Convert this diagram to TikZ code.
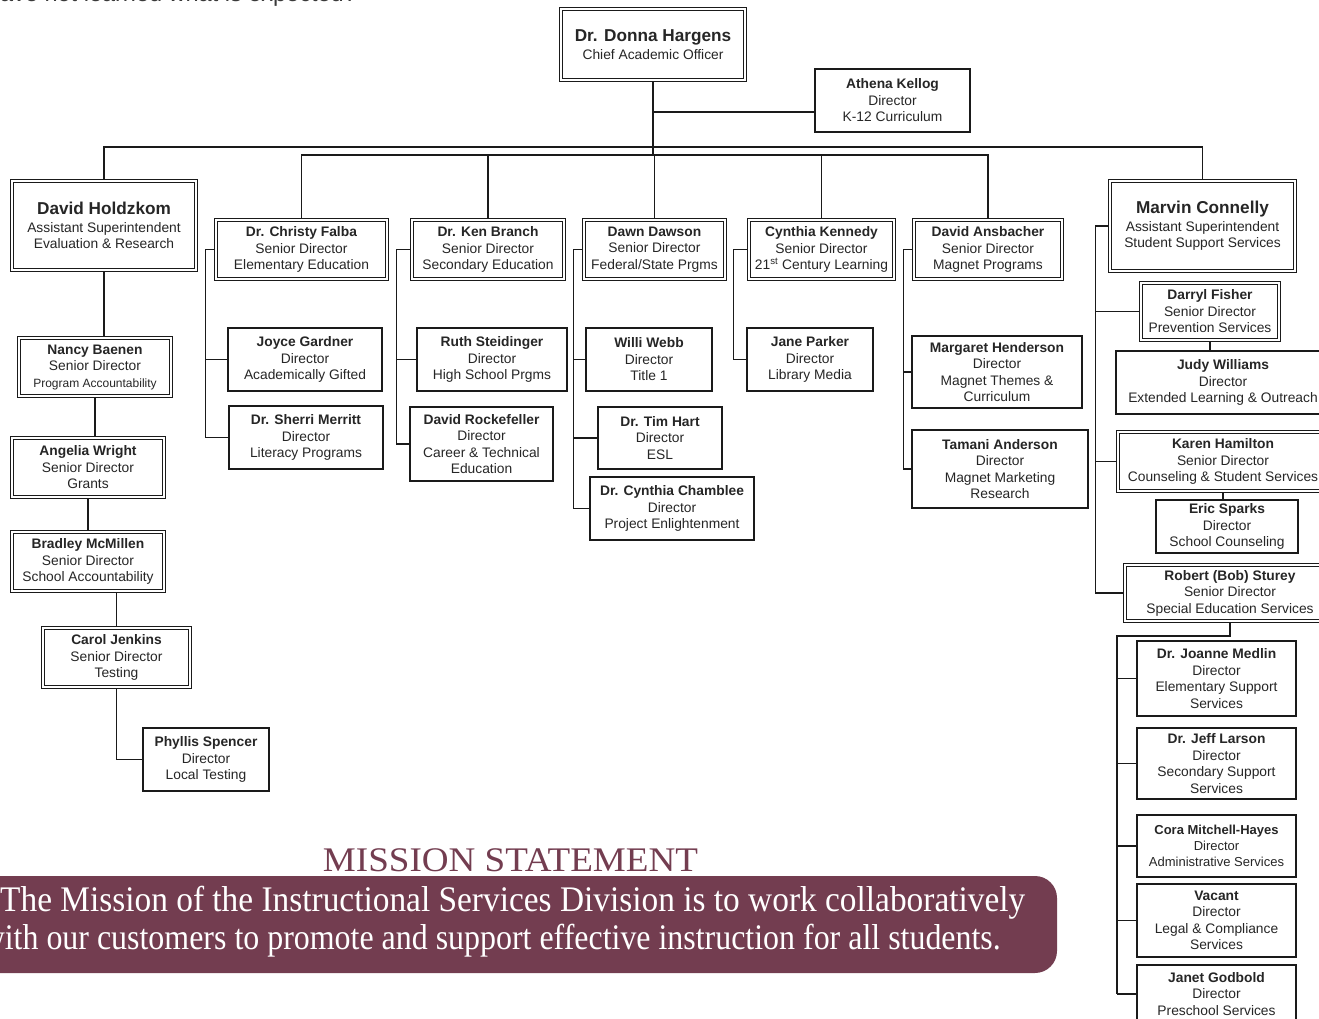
\documentclass[tikz,border=0pt]{standalone}
\usepackage{fontspec}
\usepackage{graphicx}
\setmainfont{Liberation Sans}
\newfontfamily\serifface{Liberation Serif}
\usetikzlibrary{backgrounds}

\definecolor{ink}{HTML}{262626}
\definecolor{linec}{HTML}{1A1A1A}
\definecolor{leadgray}{HTML}{3A3A3A}
\definecolor{maroon}{HTML}{733D50}

\newcommand{\pname}[1]{\textbf{#1}}
\newcommand{\bigname}[1]{{\fontsize{17.2}{20}\selectfont\bfseries #1}}

\tikzset{
  base/.style={align=center, inner sep=0pt, font=\fontsize{13.8}{16.5}\selectfont, text=ink, fill=white},
  single/.style={base, draw=linec, line width=1.1pt},
  dbl/.style={base, draw=linec, line width=1pt},
  innerframe/.style={draw=linec, line width=1pt},
  sz/.style 2 args={minimum width=#1, minimum height=#2},
  link/.style={draw=linec, line width=1.2pt},
  trunk/.style={draw=linec, line width=2pt},
}

\begin{document}
\begin{tikzpicture}[x=1pt, y=-1pt]
\useasboundingbox (0,0) rectangle (1319,1019);
\clip (0,0) rectangle (1319,1019);

% leftover line of running text at the top
\node[anchor=base west, inner sep=0pt, text=leadgray, font=\fontsize{23.5}{28}\selectfont] (lead) at (0,2) {ave not learned what is expected?};

% ---- top level
\node[dbl, sz={187pt}{74pt}] (donna) at (653,44.5) {\bigname{Dr. Donna Hargens}\\[1pt]Chief Academic Officer};
\node[single, sz={155pt}{63pt}] (athena) at (892.5,100.5) {\pname{Athena Kellog}\\Director\\K-12 Curriculum};

% ---- second level
\node[dbl, sz={187pt}{92pt}] (holdzkom) at (104,225.5) {\bigname{David Holdzkom}\\[1pt]Assistant Superintendent\\Evaluation \& Research};
\node[dbl, sz={174pt}{62pt}] (falba) at (301.5,249.5) {\pname{Dr. Christy Falba}\\Senior Director\\Elementary Education};
\node[dbl, sz={155pt}{62pt}] (branch) at (488,249.5) {\pname{Dr. Ken Branch}\\Senior Director\\Secondary Education};
\node[dbl, sz={144pt}{62pt}] (dawson) at (654.5,249.5) {\pname{Dawn Dawson}\\Senior Director\\Federal/State Prgms};
\node[dbl, sz={148pt}{62pt}] (kennedy) at (821.5,249.5) {\pname{Cynthia Kennedy}\\Senior Director\\21\textsuperscript{st} Century Learning};
\node[dbl, sz={151pt}{62pt}] (ansbacher) at (988,249.5) {\pname{David Ansbacher}\\Senior Director\\Magnet Programs};
\node[dbl, sz={188pt}{93pt}] (connelly) at (1202.5,226) {\bigname{Marvin Connelly}\\[1pt]Assistant Superintendent\\Student Support Services};

% ---- evaluation & research column
\node[dbl, sz={155pt}{61pt}] (nancy) at (95,367) {\pname{Nancy Baenen}\\Senior Director\\{\fontsize{12}{14}\selectfont Program Accountability}};
\node[dbl, sz={155pt}{62pt}] (angelia) at (88,467.5) {\pname{Angelia Wright}\\Senior Director\\Grants};
\node[dbl, sz={155pt}{62pt}] (bradley) at (88,561.5) {\pname{Bradley McMillen}\\Senior Director\\School Accountability};
\node[dbl, sz={150pt}{62pt}] (carol) at (116.5,657.5) {\pname{Carol Jenkins}\\Senior Director\\Testing};
\node[single, sz={126pt}{63pt}] (phyllis) at (206,759.5) {\pname{Phyllis Spencer}\\Director\\Local Testing};

% ---- directors under the senior directors
\node[single, sz={154pt}{63pt}] (joyce) at (305,359.5) {\pname{Joyce Gardner}\\Director\\Academically Gifted};
\node[single, sz={154pt}{63pt}] (merritt) at (306,437.5) {\pname{Dr. Sherri Merritt}\\Director\\Literacy Programs};
\node[single, sz={150pt}{63pt}] (ruth) at (492,359.5) {\pname{Ruth Steidinger}\\Director\\High School Prgms};
\node[single, sz={143pt}{74pt}] (rockefeller) at (481.5,444) {\pname{David Rockefeller}\\Director\\Career \& Technical\\Education};
\node[single, sz={126pt}{63pt}] (webb) at (649,359.5) {\pname{Willi Webb}\\Director\\Title 1};
\node[single, sz={124pt}{62pt}] (hart) at (660,438) {\pname{Dr. Tim Hart}\\Director\\ESL};
\node[single, sz={164pt}{63pt}] (chamblee) at (672,508.5) {\pname{Dr. Cynthia Chamblee}\\Director\\Project Enlightenment};
\node[single, sz={126pt}{63pt}] (parker) at (810,359.5) {\pname{Jane Parker}\\Director\\Library Media};
\node[single, sz={170pt}{72pt}] (henderson) at (997,372) {\pname{Margaret Henderson}\\Director\\Magnet Themes \&\\Curriculum};
\node[single, sz={176pt}{78pt}] (tamani) at (1000,469) {\pname{Tamani Anderson}\\Director\\Magnet Marketing\\Research};

% ---- student support services column
\node[dbl, sz={141pt}{60pt}] (darryl) at (1210,311.5) {\pname{Darryl Fisher}\\Senior Director\\Prevention Services};
\node[single, sz={214pt}{63pt}] (judy) at (1223,382.5) {\pname{Judy Williams}\\Director\\Extended Learning \& Outreach};
\node[dbl, sz={213pt}{62pt}] (karen) at (1223,461.5) {\pname{Karen Hamilton}\\Senior Director\\Counseling \& Student Services};
\node[single, sz={142pt}{53pt}] (eric) at (1227,526.5) {\pname{Eric Sparks}\\Director\\School Counseling};
\node[dbl, sz={213pt}{59pt}] (sturey) at (1230,593) {\pname{Robert (Bob) Sturey}\\Senior Director\\Special Education Services};
\node[single, sz={159pt}{75pt}] (medlin) at (1216.5,678.5) {\pname{Dr. Joanne Medlin}\\Director\\Elementary Support\\Services};
\node[single, sz={159pt}{71pt}] (larson) at (1216.5,763.5) {\pname{Dr. Jeff Larson}\\Director\\Secondary Support\\Services};
\node[single, sz={159pt}{62pt}, font=\fontsize{13}{16}\selectfont] (cora) at (1216.5,846) {\pname{Cora Mitchell-Hayes}\\Director\\Administrative Services};
\node[single, sz={159pt}{73pt}] (vacant) at (1216.5,920.5) {\pname{Vacant}\\Director\\Legal \& Compliance\\Services};
\node[single, sz={159pt}{58pt}] (godbold) at (1216.5,994) {\pname{Janet Godbold}\\Director\\Preschool Services};

% second, inner frame line of the senior staff boxes
\foreach \n in {donna,holdzkom,falba,branch,dawson,kennedy,ansbacher,connelly,
                nancy,angelia,bradley,carol,darryl,karen,sturey}
  \draw[innerframe] ([shift={(3.2,3.2)}]\n.north west) rectangle ([shift={(-3.2,-3.2)}]\n.south east);

% ---- connectors
\begin{pgfonlayer}{background}
  \coordinate (bar1) at (653,147);
  \coordinate (bar2) at (653,155);
  \coordinate (kellog) at (653,112);
  \draw[trunk] (donna.south) -- (bar2);
  \draw[link] (kellog) -- (kellog -| athena.west);
  \draw[link] (holdzkom.north) |- (bar1) -| (connelly.north);
  \draw[link] (falba.north) |- (bar2) -| (ansbacher.north);
  \draw[link] (branch.north) -- (branch.north |- bar2);
  \draw[link] (dawson.north) -- (dawson.north |- bar2);
  \draw[link] (kennedy.north) -- (kennedy.north |- bar2);

  % evaluation & research chain
  \draw[link] (holdzkom.south) -- (holdzkom.south |- nancy.north);
  \draw[link] (nancy.south) -- (nancy.south |- angelia.north);
  \draw[link] (angelia.south) -- (bradley.north);
  \draw[link] (carol.north |- bradley.south) -- (carol.north);
  \draw[link] (carol.south) |- (phyllis.west);

  % side spines of the senior directors
  \draw[link] (falba.west) -- ++(-8.6,0) coordinate (fx) |- (merritt.west);
  \draw[link] (fx) |- (joyce.west);
  \draw[link] (branch.west) -- ++(-13.6,0) coordinate (bx) |- (rockefeller.west);
  \draw[link] (bx) |- (ruth.west);
  \draw[link] (dawson.west) -- ++(-8.6,0) coordinate (dx) |- (chamblee.west);
  \draw[link] (dx) |- (webb.west);
  \draw[link] (dx) |- (hart.west);
  \draw[link] (kennedy.west) -- ++(-13.6,0) |- (parker.west);
  \draw[link] (ansbacher.west) -- ++(-8.6,0) coordinate (ax) |- (tamani.west);
  \draw[link] (ax) |- (henderson.west);

  % student support services
  \draw[link] (connelly.west) -- ++(-12.6,0) coordinate (cx) |- (sturey.west);
  \draw[link] (cx) |- (darryl.west);
  \draw[link] (cx) |- (karen.west);
  \draw[link] (darryl.south) -- (darryl.south |- judy.north);
  \draw[link] (karen.south) -- (karen.south |- eric.north);

  % special education spine
  \coordinate (sp) at (1117,636);
  \draw[trunk] (sturey.south) |- (sp) -- (sp |- godbold.west);
  \draw[link] (sp |- medlin.west) -- (medlin.west);
  \draw[link] (sp |- larson.west) -- (larson.west);
  \draw[link] (sp |- cora.west) -- (cora.west);
  \draw[link] (sp |- vacant.west) -- (vacant.west);
  \draw[link] (sp |- godbold.west) -- (godbold.west);
\end{pgfonlayer}

% ---- mission statement
\node[anchor=base, inner sep=0pt, text=maroon] (title) at (510.5,871)
  {\resizebox{375pt}{\height}{\serifface\fontsize{34.5}{34.5}\selectfont MISSION STATEMENT}};
\fill[maroon, rounded corners=22pt] (-40,876) rectangle (1057,973);
\node[anchor=base west, inner sep=0pt, text=white] (mission1) at (0,911)
  {\resizebox{1025pt}{\height}{\serifface\fontsize{36}{36}\selectfont The Mission of the Instructional Services Division is to work collaboratively}};
\node[anchor=base east, inner sep=0pt, text=white] (mission2) at (1001,949)
  {\resizebox{1019pt}{\height}{\serifface\fontsize{36}{36}\selectfont with our customers to promote and support effective instruction for all students.}};
\end{tikzpicture}
\end{document}
